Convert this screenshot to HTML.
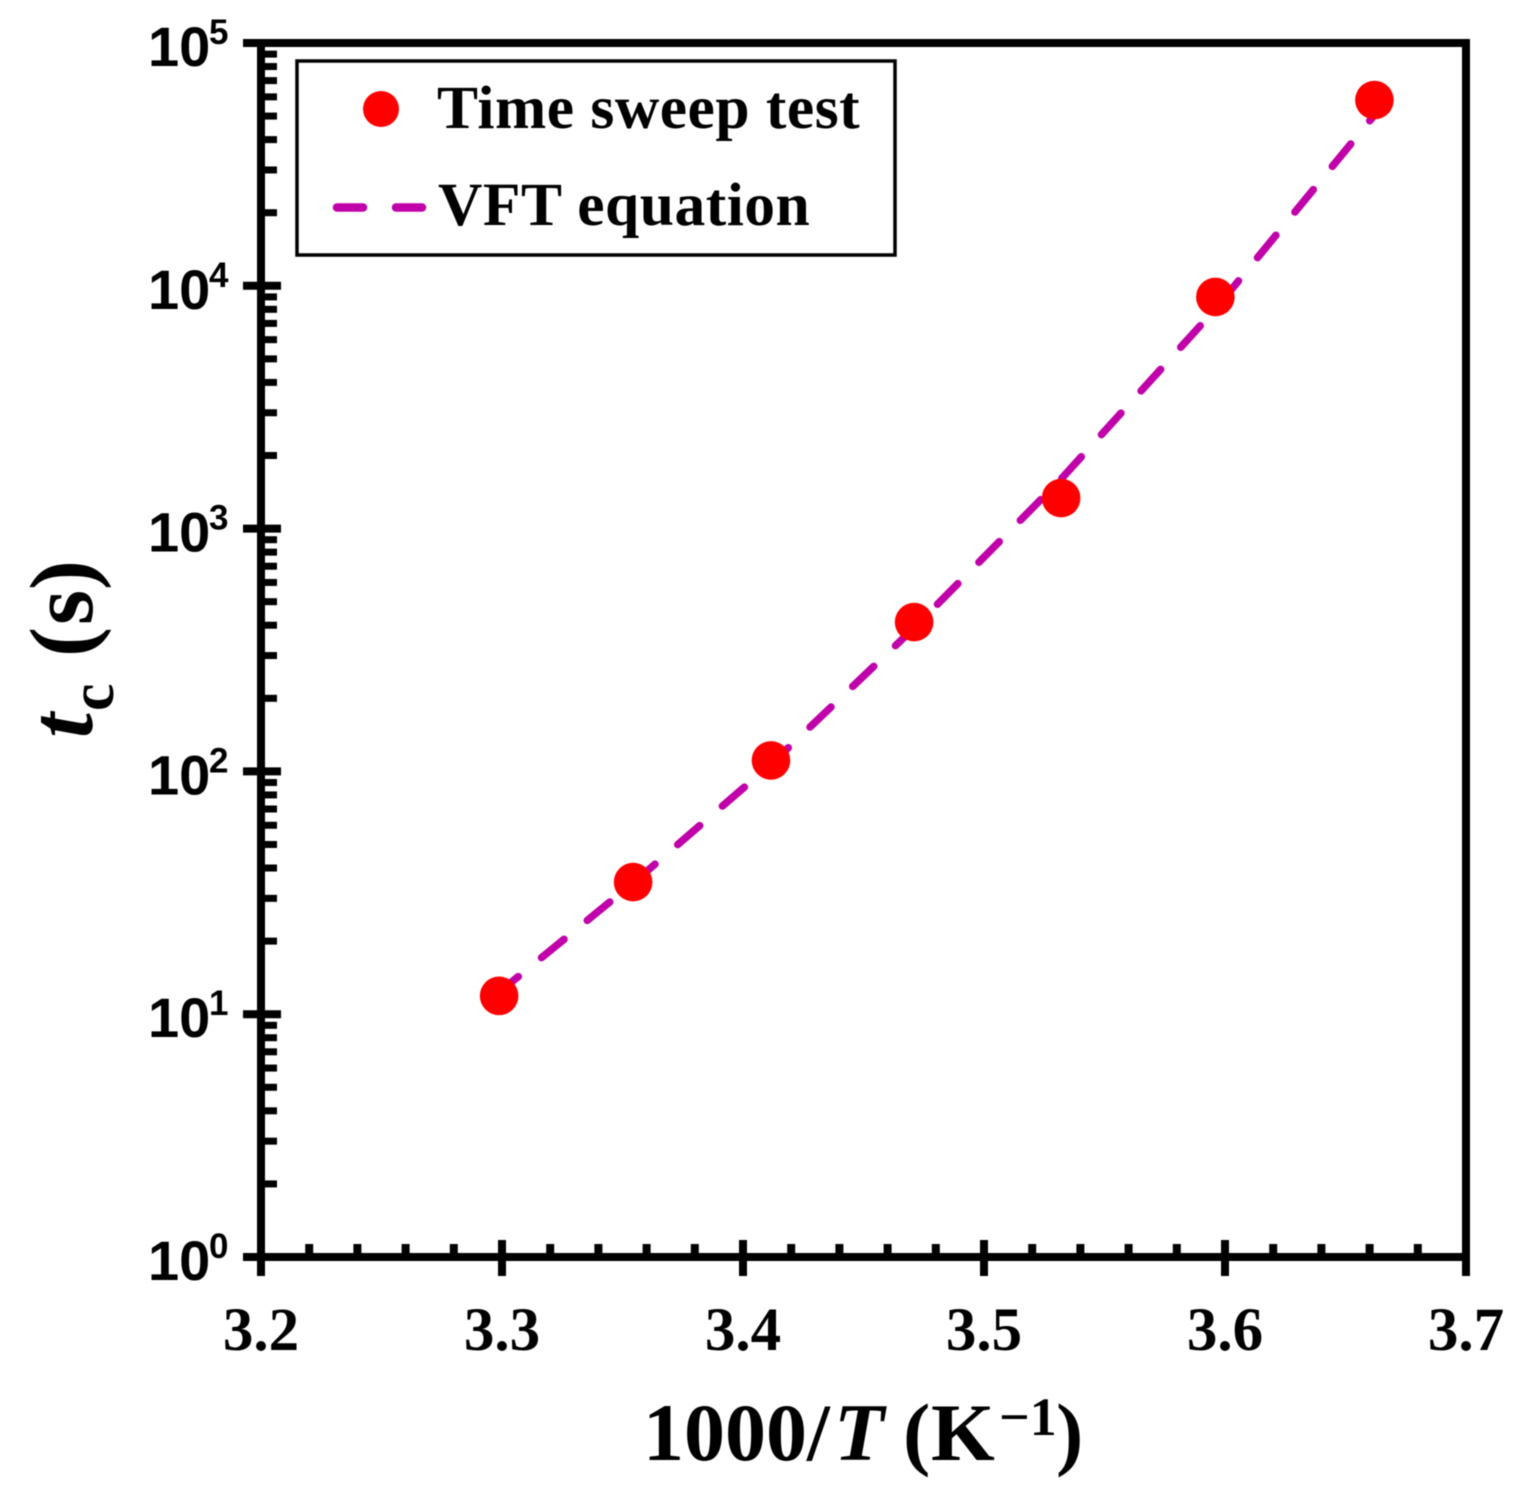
<!DOCTYPE html>
<html lang="en">
<head>
<meta charset="utf-8">
<title>Crossover time versus inverse temperature</title>
<style>
html,body{margin:0;padding:0;background:#fff;}
body{width:1522px;height:1495px;overflow:hidden;}
svg{display:block;filter:blur(0.6px);}
.serif{font-family:"Liberation Serif",serif;font-weight:bold;fill:#000;}
.sans{font-family:"Liberation Sans",sans-serif;font-weight:bold;fill:#000;}
</style>
</head>
<body>
<svg id="chart" xmlns="http://www.w3.org/2000/svg" width="1522" height="1495" viewBox="0 0 1522 1495">
  <rect x="0" y="0" width="1522" height="1495" fill="#fff"/>
  <g id="fit-layer"></g>
  <g id="point-layer"></g>
  <g id="axis-layer"></g>
  <g>
    <rect x="297" y="61" width="598" height="194" fill="none" stroke="#000" stroke-width="3.5"/>
    <circle cx="381" cy="109" r="18" fill="#ff0000"/>
    <text class="serif" x="437" y="128" font-size="61.5" letter-spacing="0.5">Time sweep test</text>
    <line x1="337" y1="207.500" x2="363" y2="207.500" stroke="#c000a8" stroke-width="8.500" stroke-linecap="round"/>
    <line x1="396" y1="207.500" x2="422" y2="207.500" stroke="#c000a8" stroke-width="8.500" stroke-linecap="round"/>
    <text class="serif" x="438" y="225" font-size="61.5" letter-spacing="0.5">VFT equation</text>
  </g>
  <text class="serif" y="1460" font-size="82"><tspan x="643">1000/</tspan><tspan x="834" font-style="italic">T</tspan> <tspan x="903">(</tspan><tspan x="931">K</tspan><tspan x="999" y="1435" font-size="54">−1</tspan><tspan x="1056" y="1460">)</tspan></text>
  <text class="serif" transform="translate(92,738) rotate(-90)" font-size="90"><tspan x="0" y="0" font-style="italic">t</tspan><tspan x="27" y="21" font-size="62">c</tspan> <tspan x="81" y="0">(</tspan><tspan x="113" y="0">s</tspan><tspan x="148" y="0">)</tspan></text>
</svg>
<script>
const xTicks = [3.2, 3.3, 3.4, 3.5, 3.6, 3.7];
const xTickLabels = ["3.2", "3.3", "3.4", "3.5", "3.6", "3.7"];
const yExponents = [0, 1, 2, 3, 4, 5];
const pointX = [3.2988, 3.3544, 3.4116, 3.471, 3.532, 3.596, 3.662];
const pointY = [11.9, 35, 111, 412, 1336, 8995, 58200];
const fitX = [3.3, 3.3544, 3.4116, 3.471, 3.532, 3.596, 3.662];
const fitY = [12.6, 34.7, 107, 390, 1600, 8020, 50500];

const NS = 'http://www.w3.org/2000/svg';
const X_LEFT = 261, X_RIGHT = 1466, Y_BOTTOM = 1257, Y_TOP = 43;
const X_MIN = 3.2, X_MAX = 3.7, LOG_MIN = 0, LOG_MAX = 5;
function xScale(v) { return X_LEFT + (v - X_MIN) / (X_MAX - X_MIN) * (X_RIGHT - X_LEFT); }
function yScale(v) { return Y_BOTTOM - (Math.log10(v) - LOG_MIN) / (LOG_MAX - LOG_MIN) * (Y_BOTTOM - Y_TOP); }
function make(tag, attrs, parent) {
  const el = document.createElementNS(NS, tag);
  for (const k in attrs) el.setAttribute(k, attrs[k]);
  parent.appendChild(el);
  return el;
}

const axisLayer = document.getElementById('axis-layer');
const fitLayer = document.getElementById('fit-layer');
const pointLayer = document.getElementById('point-layer');

const frame = make('rect', {x: X_LEFT, y: Y_TOP, width: X_RIGHT - X_LEFT, height: Y_BOTTOM - Y_TOP, fill: 'none', stroke: '#000', 'stroke-width': 8}, axisLayer);



xTicks.forEach(function (t, i) {
  const x = xScale(t);
  const tick = make('line', {x1: x, x2: x, y1: 1240, y2: 1276, stroke: '#000', 'stroke-width': 8}, axisLayer);
  
  
  const label = make('text', {x: x, y: 1350, 'text-anchor': 'middle', 'font-size': 61, class: 'serif'}, axisLayer);
  label.textContent = xTickLabels[i];
  
  
  if (i < xTicks.length - 1) {
    for (let m = 1; m < 5; m++) {
      const mx = xScale(t + m * 0.02);
      const minor = make('line', {x1: mx, x2: mx, y1: 1244, y2: 1257, stroke: '#000', 'stroke-width': 8}, axisLayer);
      
      
    }
  }
});

yExponents.forEach(function (e, i) {
  const value = Math.pow(10, e);
  const y = yScale(value);
  const tick = make('line', {x1: 243, x2: 281, y1: y, y2: y, stroke: '#000', 'stroke-width': 8}, axisLayer);
  
  
  const base = make('text', {x: 148, y: y + 23, 'font-size': 56, class: 'sans'}, axisLayer);
  base.textContent = '10';
  
  
  const sup = make('text', {x: 209, y: y + 1, 'font-size': 35, class: 'sans'}, axisLayer);
  sup.textContent = String(e);
  
  
  if (i < yExponents.length - 1) {
    for (let m = 2; m < 10; m++) {
      const my = yScale(m * value);
      const minor = make('line', {x1: X_LEFT, x2: 277, y1: my, y2: my, stroke: '#000', 'stroke-width': 7}, axisLayer);
      
      
    }
  }
});

const fitPoints = fitX.map(function (v, i) { return xScale(v) + ',' + yScale(fitY[i]); }).join(' ');
const fitLine = make('polyline', {points: fitPoints, fill: 'none', stroke: '#c000a8', 'stroke-width': 7.5, 'stroke-dasharray': '29 30', 'stroke-dashoffset': 8, 'stroke-linecap': 'round', 'stroke-linejoin': 'round'}, fitLayer);



pointX.forEach(function (v, i) {
  const c = make('circle', {cx: xScale(v), cy: yScale(pointY[i]), r: 19.300, fill: '#ff0000'}, pointLayer);
  
  
});
</script>
</body>
</html>
